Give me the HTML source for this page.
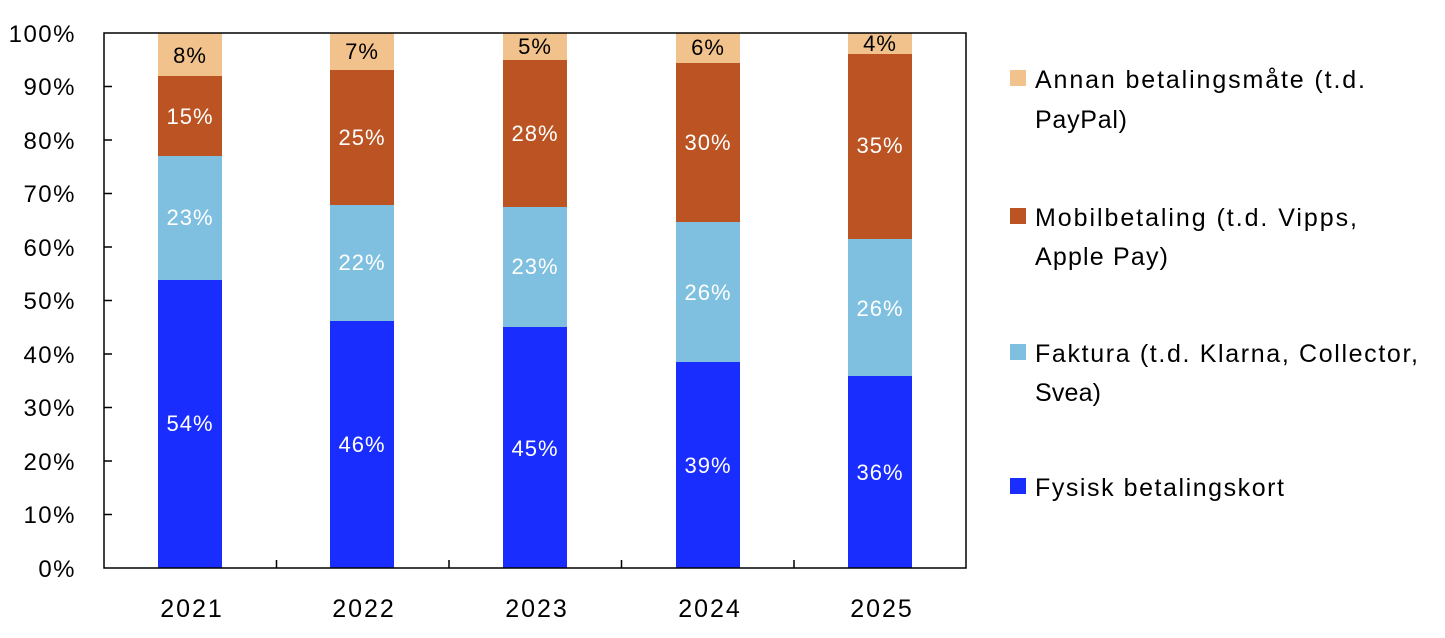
<!DOCTYPE html>
<html><head><meta charset="utf-8"><style>body{margin:0;background:#fff}svg{display:block}text{font-family:"Liberation Sans",sans-serif}</style></head><body>
<svg width="1445" height="638" viewBox="0 0 1445 638" xmlns="http://www.w3.org/2000/svg">
<g font-size="24" fill="#000" text-anchor="end" letter-spacing="1.5">
<text x="76" y="577">0%</text><text x="76" y="523">10%</text><text x="76" y="470">20%</text><text x="76" y="416">30%</text><text x="76" y="363">40%</text><text x="76" y="309">50%</text><text x="76" y="256">60%</text><text x="76" y="202">70%</text><text x="76" y="149">80%</text><text x="76" y="95">90%</text><text x="76" y="42">100%</text>
</g>
<g>
<rect x="158" y="280" width="64" height="288" fill="#1a2dff"/><rect x="158" y="156" width="64" height="124" fill="#7fc0e0"/><rect x="158" y="76" width="64" height="80" fill="#bb5422"/><rect x="158" y="33" width="64" height="43" fill="#f2c28c"/>
<rect x="330" y="321" width="64" height="247" fill="#1a2dff"/><rect x="330" y="205" width="64" height="116" fill="#7fc0e0"/><rect x="330" y="70" width="64" height="135" fill="#bb5422"/><rect x="330" y="33" width="64" height="37" fill="#f2c28c"/>
<rect x="503" y="327" width="64" height="241" fill="#1a2dff"/><rect x="503" y="207" width="64" height="120" fill="#7fc0e0"/><rect x="503" y="60" width="64" height="147" fill="#bb5422"/><rect x="503" y="33" width="64" height="27" fill="#f2c28c"/>
<rect x="676" y="362" width="64" height="206" fill="#1a2dff"/><rect x="676" y="222" width="64" height="140" fill="#7fc0e0"/><rect x="676" y="63" width="64" height="159" fill="#bb5422"/><rect x="676" y="33" width="64" height="30" fill="#f2c28c"/>
<rect x="848" y="376" width="64" height="192" fill="#1a2dff"/><rect x="848" y="239" width="64" height="137" fill="#7fc0e0"/><rect x="848" y="54" width="64" height="185" fill="#bb5422"/><rect x="848" y="33" width="64" height="21" fill="#f2c28c"/>
</g>
<g font-size="22" text-anchor="middle" fill="#fff" letter-spacing="1">
<text x="190" y="431">54%</text><text x="190" y="225">23%</text><text x="190" y="124">15%</text><text x="190" y="63" fill="#000">8%</text>
<text x="362" y="452">46%</text><text x="362" y="270">22%</text><text x="362" y="145">25%</text><text x="362" y="59" fill="#000">7%</text>
<text x="535" y="456">45%</text><text x="535" y="274">23%</text><text x="535" y="141">28%</text><text x="535" y="54" fill="#000">5%</text>
<text x="708" y="473">39%</text><text x="708" y="300">26%</text><text x="708" y="150">30%</text><text x="708" y="55" fill="#000">6%</text>
<text x="880" y="480">36%</text><text x="880" y="316">26%</text><text x="880" y="153">35%</text><text x="880" y="51" fill="#000">4%</text>
</g>
<g stroke="#000" stroke-width="1.5" fill="none">
<rect x="104" y="33" width="862" height="535"/>
<path d="M104 514.5h8M104 461h8M104 407.5h8M104 354h8M104 300.5h8M104 247h8M104 193.5h8M104 140h8M104 86.5h8M276.5 568v-8M449 568v-8M621.5 568v-8M794 568v-8"/>
</g>
<g font-size="25" text-anchor="middle" letter-spacing="2">
<text x="192" y="617">2021</text><text x="364" y="617">2022</text><text x="537" y="617">2023</text><text x="710" y="617">2024</text><text x="882" y="617">2025</text>
</g>
<g font-size="25" lengthAdjust="spacing">
<rect x="1010" y="70" width="16" height="16" fill="#f2c28c"/><text x="1035" y="88" textLength="330">Annan betalingsmåte (t.d.</text><text x="1035" y="128" textLength="92">PayPal)</text>
<rect x="1010" y="208" width="16" height="16" fill="#bb5422"/><text x="1035" y="226" textLength="322">Mobilbetaling (t.d. Vipps,</text><text x="1035" y="265" textLength="133">Apple Pay)</text>
<rect x="1010" y="344" width="16" height="16" fill="#7fc0e0"/><text x="1035" y="362" textLength="383">Faktura (t.d. Klarna, Collector,</text><text x="1035" y="401" textLength="66">Svea)</text>
<rect x="1010" y="478" width="16" height="16" fill="#1a2dff"/><text x="1035" y="496" textLength="249">Fysisk betalingskort</text>
</g>
</svg>
</body></html>
